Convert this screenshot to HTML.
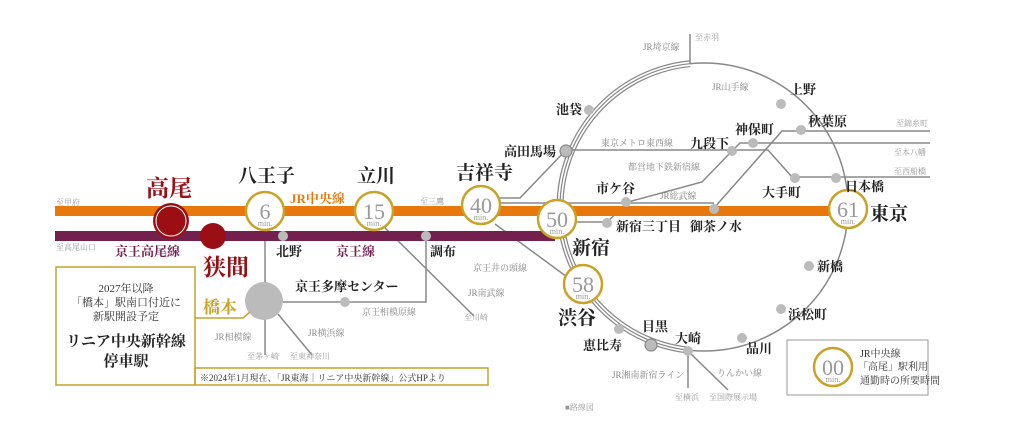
<!DOCTYPE html>
<html><head><meta charset="utf-8"><style>
body{margin:0;background:#fff}
svg{display:block}
text{font-family:"Liberation Serif","Noto Serif CJK SC",serif}
.st{font-size:15px;fill:#222;font-weight:bold}
.big{font-size:21px;fill:#222;font-weight:bold}
.sm{font-size:9px;fill:#888}
.xs{font-size:8px;fill:#999}
.num{font-size:22px;fill:#999;text-anchor:middle}
.min{font-size:8px;fill:#999;text-anchor:middle}
</style></head><body>
<svg width="1024" height="440" viewBox="0 0 1024 440" xmlns="http://www.w3.org/2000/svg">
<circle cx="704" cy="207" r="144" fill="none" stroke="#888" stroke-width="1.5"/>
<path d="M690 63.7 A144 144 0 0 0 560 207 A144 144 0 0 0 688 350.1" fill="none" stroke="#888" stroke-width="7"/>
<path d="M690 63.7 A144 144 0 0 0 560 207 A144 144 0 0 0 688 350.1" fill="none" stroke="#fff" stroke-width="4.5"/>
<path d="M690 63.7 A144 144 0 0 0 560 207 A144 144 0 0 0 688 350.1" fill="none" stroke="#888" stroke-width="1.2"/>
<path d="M690 64 L690 34" stroke="#888" stroke-width="1.5" fill="none"/>
<text x="695" y="40" class="xs">至赤羽</text>
<text x="643" y="50" class="sm">JR埼京線</text>
<text x="712" y="90" class="sm">JR山手線</text>
<g stroke="#888" stroke-width="1.5" fill="none">
<path d="M566 150 L768 150 L792 177 L930 177"/>
<path d="M607 222 L628 202 L702 182 L732 151 L740 143 L930 143"/>
<path d="M714 208 L782 131 L930 131"/>
<path d="M500 198 L520 198 L566 150"/>
<path d="M500 203 L714 203"/>
<path d="M575 222 L607 222"/>
<path d="M265 230 L265 355"/>
<path d="M278 314 L312 355"/>
<path d="M283 302 L426 302 L426 236"/>
<path d="M385 228 L474 316"/>
<path d="M495 224 L578 285"/>
<path d="M688 351 L688 388"/>
<path d="M690 353 L728 390"/>
</g>
<rect x="55" y="206" width="790" height="10" fill="#e9780c"/>
<rect x="55" y="231" width="500" height="10" fill="#73204e"/>
<g fill="#bbb">
<circle cx="589" cy="110" r="5"/><circle cx="781" cy="104" r="5"/><circle cx="801" cy="130" r="5"/>
<circle cx="753" cy="143" r="5"/><circle cx="732" cy="151" r="5"/><circle cx="795" cy="178" r="5"/>
<circle cx="836" cy="178" r="5"/><circle cx="626" cy="202" r="5"/><circle cx="607" cy="223" r="5"/>
<circle cx="714" cy="209" r="5"/><circle cx="809" cy="266" r="5"/><circle cx="781" cy="309" r="5"/>
<circle cx="742" cy="338" r="5"/><circle cx="688" cy="351" r="5"/><circle cx="619" cy="329" r="5"/>
<circle cx="283" cy="236" r="5"/><circle cx="426" cy="236" r="5"/><circle cx="345" cy="302" r="5"/>
<circle cx="264" cy="301" r="19"/>
</g>
<circle cx="566" cy="151" r="6" fill="#bbb" stroke="#888" stroke-width="1.2"/>
<circle cx="651" cy="345" r="6" fill="#bbb" stroke="#888" stroke-width="1.2"/>
<circle cx="171" cy="221" r="18" fill="#9a0e14"/>
<circle cx="171" cy="221" r="15" fill="none" stroke="#fff" stroke-width="1"/>
<circle cx="213" cy="236" r="13" fill="#9a0e14"/>
<g fill="#fff" stroke="#c9a227" stroke-width="2.5">
<circle cx="265" cy="211" r="19"/><circle cx="374" cy="211" r="19"/><circle cx="481" cy="205" r="19"/>
<circle cx="557" cy="219" r="19"/><circle cx="583" cy="284" r="19"/><circle cx="848" cy="209" r="19"/>
<circle cx="833" cy="367" r="19"/>
</g>
<g>
<text x="265" y="219" class="num">6</text><text x="265" y="226" class="min">min.</text>
<text x="374" y="219" class="num">15</text><text x="374" y="226" class="min">min.</text>
<text x="481" y="213" class="num">40</text><text x="481" y="220" class="min">min.</text>
<text x="557" y="227" class="num">50</text><text x="557" y="234" class="min">min.</text>
<text x="583" y="292" class="num">58</text><text x="583" y="299" class="min">min.</text>
<text x="848" y="217" class="num">61</text><text x="848" y="224" class="min">min.</text>
<text x="833" y="375" class="num">00</text><text x="833" y="382" class="min">min.</text>
</g>
<rect x="56" y="267" width="139" height="118" fill="#fff" stroke="#c9a227" stroke-width="1.5"/>
<rect x="195" y="368" width="293" height="17" fill="none" stroke="#c9a227" stroke-width="1.5"/>
<path d="M195 318 L243 318 L250 312" stroke="#c9a227" stroke-width="1.5" fill="none"/>
<rect x="787" y="340" width="141" height="55" fill="none" stroke="#999" stroke-width="1"/>
<text x="146" y="196" style="font-size:23px;fill:#9a0e14;font-weight:bold">高尾</text>
<text x="203" y="275" style="font-size:23px;fill:#9a0e14;font-weight:bold">狭間</text>
<text x="238" y="182" class="big" style="font-size:19px">八王子</text>
<text x="357" y="182" class="big" style="font-size:19px">立川</text>
<text x="456" y="179" class="big" style="font-size:19px">吉祥寺</text>
<text x="290" y="203" style="font-size:13px;fill:#e9780c;font-weight:bold">JR中央線</text>
<text x="56" y="205" class="xs">至甲府</text>
<text x="56" y="250" class="xs">至高尾山口</text>
<text x="115" y="256" style="font-size:13px;fill:#73204e;font-weight:bold">京王高尾線</text>
<text x="336" y="256" style="font-size:13px;fill:#73204e;font-weight:bold">京王線</text>
<text x="276" y="256" class="st" style="font-size:13px">北野</text>
<text x="430" y="256" class="st" style="font-size:13px">調布</text>
<text x="420" y="204" class="xs">至三鷹</text>
<text x="203" y="313" style="font-size:17px;fill:#c9a227;font-weight:bold">橋本</text>
<text x="295" y="291" class="st" style="font-size:13px">京王多摩センター</text>
<text x="362" y="315" class="sm">京王相模原線</text>
<text x="215" y="340" class="sm">JR相模線</text>
<text x="308" y="336" class="sm">JR横浜線</text>
<text x="247" y="359" class="xs">至茅ヶ崎</text>
<text x="290" y="359" class="xs">至東神奈川</text>
<text x="473" y="271" class="sm">京王井の頭線</text>
<text x="468" y="296" class="sm">JR南武線</text>
<text x="464" y="320" class="xs">至川崎</text>
<text x="200" y="381" style="font-size:9px;fill:#333">※2024年1月現在、「JR東海｜リニア中央新幹線」公式HPより</text>
<g style="font-size:11px;fill:#333;text-anchor:middle">
<text x="126" y="292">2027年以降</text>
<text x="126" y="306">「橋本」駅南口付近に</text>
<text x="126" y="320">新駅開設予定</text>
</g>
<text x="126" y="346" style="font-size:15px;fill:#222;font-weight:bold;text-anchor:middle">リニア中央新幹線</text>
<text x="126" y="366" style="font-size:15px;fill:#222;font-weight:bold;text-anchor:middle">停車駅</text>
<text x="556" y="114" class="st" style="font-size:13px">池袋</text>
<text x="504" y="156" class="st" style="font-size:13px">高田馬場</text>
<text x="601" y="146" class="sm">東京メトロ東西線</text>
<text x="628" y="170" class="sm">都営地下鉄新宿線</text>
<text x="690" y="148" class="st" style="font-size:13px">九段下</text>
<text x="735" y="134" class="st" style="font-size:13px">神保町</text>
<text x="790" y="94" class="st" style="font-size:13px">上野</text>
<text x="808" y="126" class="st" style="font-size:13px">秋葉原</text>
<text x="896" y="126" class="xs">至錦糸町</text>
<text x="894" y="155" class="xs">至本八幡</text>
<text x="894" y="174" class="xs">至西船橋</text>
<text x="762" y="197" class="st" style="font-size:13px">大手町</text>
<text x="845" y="191" class="st" style="font-size:13px">日本橋</text>
<text x="596" y="193" class="st" style="font-size:13px">市ケ谷</text>
<text x="660" y="199" class="sm">JR総武線</text>
<text x="616" y="231" class="st" style="font-size:13px">新宿三丁目</text>
<text x="690" y="231" class="st" style="font-size:13px">御茶ノ水</text>
<text x="870" y="220" class="big" style="font-size:19px">東京</text>
<text x="572" y="254" class="big" style="font-size:19px">新宿</text>
<text x="558" y="324" class="big" style="font-size:19px">渋谷</text>
<text x="583" y="350" class="st" style="font-size:13px">恵比寿</text>
<text x="642" y="331" class="st" style="font-size:13px">目黒</text>
<text x="675" y="343" class="st" style="font-size:13px">大崎</text>
<text x="746" y="353" class="st" style="font-size:13px">品川</text>
<text x="788" y="319" class="st" style="font-size:13px">浜松町</text>
<text x="817" y="271" class="st" style="font-size:13px">新橋</text>
<text x="612" y="378" class="sm">JR湘南新宿ライン</text>
<text x="717" y="376" class="sm">りんかい線</text>
<text x="675" y="400" class="xs">至横浜</text>
<text x="709" y="400" class="xs">至国際展示場</text>
<text x="565" y="410" class="xs">■路線図</text>
<g style="font-size:10px;fill:#333">
<text x="860" y="357">JR中央線</text>
<text x="858" y="370">「高尾」駅利用</text>
<text x="860" y="384">通勤時の所要時間</text>
</g>
</svg>
</body></html>
